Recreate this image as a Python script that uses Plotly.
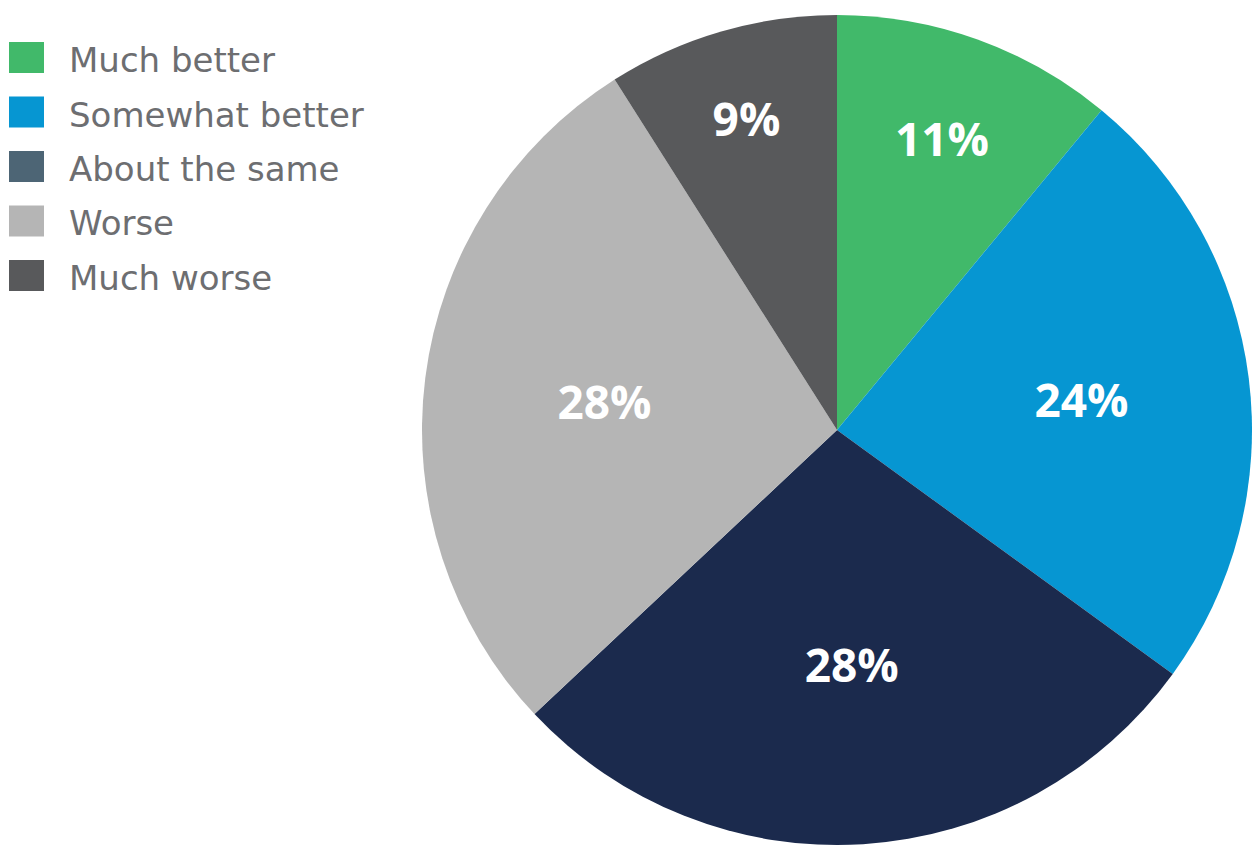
import plotly.graph_objects as go

categories = ["Much better", "Somewhat better", "About the same", "Worse", "Much worse"]
values = [11, 24, 28, 28, 9]
slice_colors = ["#41B96A", "#0696D2", "#1B2A4D", "#B5B5B5", "#58595B"]
legend_colors = ["#41B96A", "#0696D2", "#4D6575", "#B5B5B5", "#58595B"]

W, H = 1252, 846
TOP = 14
PLOT_H = H - TOP


def px(xpage):
    return xpage / W


def py(ypage):
    # convert page pixel y to paper coordinate
    return (H - ypage) / PLOT_H


fig = go.Figure()
fig.add_trace(go.Pie(
    labels=categories,
    values=values,
    sort=False,
    direction="clockwise",
    rotation=0,
    marker=dict(colors=slice_colors, line=dict(width=0)),
    texttemplate="%{value}%",
    textposition="inside",
    insidetextorientation="horizontal",
    textfont=dict(family="Open Sans", size=46, color="white", weight=700),
    domain=dict(x=[px(422), 1.0], y=[0, 1]),
    showlegend=False,
    hoverinfo="skip",
))

shapes = []
annotations = []
for i, (name, col) in enumerate(zip(categories, legend_colors)):
    top = 42 + 54.5 * i
    shapes.append(dict(
        type="rect", xref="paper", yref="paper",
        x0=px(9), x1=px(44), y0=py(top + 31), y1=py(top),
        fillcolor=col, line=dict(width=0),
    ))
    annotations.append(dict(
        text=name, xref="paper", yref="paper",
        x=px(67), y=py(top + 18), xanchor="left", yanchor="middle",
        showarrow=False,
        font=dict(family="DejaVu Sans", size=34, color="#6D6E71"),
    ))

fig.update_layout(
    width=W, height=H,
    margin=dict(l=0, r=0, t=TOP, b=0),
    paper_bgcolor="white",
    plot_bgcolor="white",
    shapes=shapes,
    annotations=annotations,
    showlegend=False,
)

fig.write_html(
    "out.html",
    config={"displayModeBar": False},
    post_script="document.body.style.margin='0';document.body.style.overflow='hidden';",
)
